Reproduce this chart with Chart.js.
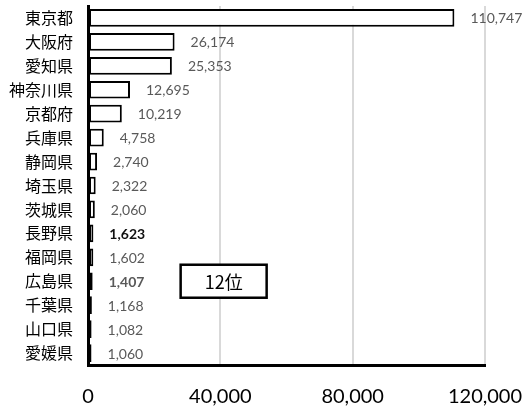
<!DOCTYPE html>
<html lang="ja">
<head>
<meta charset="UTF-8">
<title>都道府県別</title>
<script src="https://cdn.jsdelivr.net/npm/chart.js@4.4.0/dist/chart.umd.min.js"></script>
<style>
  html, body { margin: 0; padding: 0; background: #fff; }
  .wrap { position: relative; width: 523px; height: 410px; }
</style>
</head>
<body>
<div class="wrap"><canvas id="chart"></canvas></div>
<script>
// data
const prefectures = ['東京都', '大阪府', '愛知県', '神奈川県', '京都府', '兵庫県', '静岡県', '埼玉県',
  '茨城県', '長野県', '福岡県', '広島県', '千葉県', '山口県', '愛媛県'];
const counts = [110747, 26174, 25353, 12695, 10219, 4758, 2740, 2322, 2060, 1623, 1602, 1407, 1168, 1082, 1060];
const xTicks = [0, 40000, 80000, 120000];
const highlight = '広島県';
const boldLabels = ['長野県', '広島県'];
const rankText = '12位';
const rankX = 41000;

const fill = prefectures.map(p => p === highlight ? '#c00000' : '#ffffff');

// value labels next to each bar
const valueLabels = {
  id: 'valueLabels',
  afterDatasetsDraw(chart) {
    const ctx = chart.ctx;
    const meta = chart.getDatasetMeta(0);
    ctx.save();
    ctx.textBaseline = 'middle';
    ctx.textAlign = 'left';
    meta.data.forEach((bar, i) => {
      const bold = boldLabels.includes(prefectures[i]);
      ctx.font = (bold ? 'bold ' : '') + '14px Lato, "Open Sans", sans-serif';
      ctx.fillStyle = prefectures[i] === '長野県' ? '#111' : '#595959';
      ctx.fillText(counts[i].toLocaleString('en-US'), bar.x + 16, bar.y + 1);
    });
    ctx.restore();
  }
};

// "12位" box
const rankBox = {
  id: 'rankBox',
  afterDraw(chart) {
    const ctx = chart.ctx;
    const cx = chart.scales.x.getPixelForValue(rankX);
    const cy = chart.scales.y.getPixelForValue(prefectures.indexOf(highlight));
    const w = 86, h = 33;
    ctx.save();
    ctx.fillStyle = '#fff';
    ctx.fillRect(cx - w / 2, cy - h / 2, w, h);
    ctx.lineWidth = 2.5;
    ctx.strokeStyle = '#000';
    ctx.strokeRect(cx - w / 2, cy - h / 2, w, h);
    ctx.fillStyle = '#000';
    ctx.font = '18px "Noto Sans CJK JP", sans-serif';
    ctx.textAlign = 'center';
    ctx.textBaseline = 'middle';
    ctx.fillText(rankText, cx, cy + 1);
    ctx.restore();
  }
};

new Chart(document.getElementById('chart'), {
  type: 'bar',
  data: {
    labels: prefectures,
    datasets: [{
      data: counts,
      backgroundColor: fill,
      borderColor: '#000',
      borderWidth: 2,
      borderSkipped: false,
      barPercentage: 0.74,
      categoryPercentage: 1.0
    }]
  },
  options: {
    indexAxis: 'y',
    responsive: true,
    maintainAspectRatio: false,
    animation: false,
    layout: { padding: { top: 6, right: 38, bottom: 0, left: 0 } },
    plugins: { legend: { display: false }, tooltip: { enabled: false } },
    scales: {
      x: {
        min: 0,
        max: 120000,
        afterBuildTicks: s => { s.ticks = xTicks.map(v => ({ value: v })); },
        afterFit: s => { s.height = 45; s.paddingLeft = 0; s.paddingRight = 0; },
        grid: {
          color: ctx => ctx.tick && ctx.tick.value === 0 ? 'rgba(0,0,0,0)' : '#d9d9d9',
          lineWidth: 2,
          drawTicks: false
        },
        border: { color: '#000', width: 3 },
        ticks: {
          color: '#000',
          padding: 20,
          font: { size: 20, family: 'Lato, "Open Sans", sans-serif' },
          callback: v => v.toLocaleString('en-US')
        }
      },
      y: {
        afterFit: s => { s.width = 88; s.paddingTop = 0; s.paddingBottom = 0; },
        grid: { display: false, drawTicks: false },
        border: { color: '#000', width: 3 },
        ticks: {
          color: '#000',
          padding: 15,
          font: { size: 16, family: '"Noto Sans CJK JP", sans-serif' }
        }
      }
    }
  },
  plugins: [valueLabels, rankBox]
});
</script>
</body>
</html>
